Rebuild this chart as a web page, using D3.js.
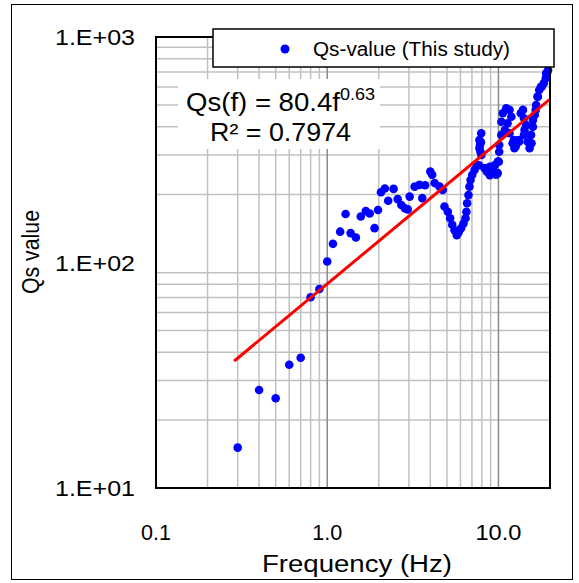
<!DOCTYPE html>
<html>
<head>
<meta charset="utf-8">
<script src="https://cdn.jsdelivr.net/npm/d3@7"></script>
<style>
  body { margin: 0; background: #fff; }
  svg text { font-family: "Liberation Sans", Arial, sans-serif; }
</style>
</head>
<body>
<div id="chart"></div>
<script>
// ---------- data ----------
const freq = [
  0.3, 0.4, 0.5, 0.6, 0.7, 0.8, 0.9, 1.0, 1.08, 1.19,
  1.28, 1.37, 1.47, 1.57, 1.68, 1.77, 1.89, 1.98, 2.06, 2.17,
  2.27, 2.44, 2.58, 2.71, 2.84, 2.95, 3.03, 3.24, 3.46, 3.59,
  3.73, 4.0, 4.1, 4.24, 4.53, 4.73, 4.84, 5.06, 5.22, 5.37,
  5.54, 5.71, 5.85, 6.05, 6.25, 6.42, 6.5, 6.56, 6.68, 6.77,
  6.87, 7.03, 7.25, 7.47, 7.74, 7.9, 7.93, 7.74, 7.8, 7.85,
  7.95, 7.7, 8.3, 8.55, 8.9, 8.9, 9.27, 9.5, 9.7, 9.9,
  9.9, 10.05, 10.1, 10.1, 10.4, 10.4, 10.6, 10.9, 11.1, 11.3,
  11.6, 11.6, 11.9, 12.1, 12.3, 12.4, 12.6, 13.1, 13.2, 13.5,
  13.9, 14.1, 14.2, 14.5, 14.1, 14.8, 15.2, 15.5, 15.6, 15.9,
  15.9, 16.3, 16.5, 16.6, 16.9, 17.0, 17.3, 17.7, 17.9, 18.4,
  18.9, 19.0, 19.3, 19.5
];
const qsValue = [
  15.1, 27.2, 25.0, 35.2, 37.8, 70.1, 76.3, 101, 121, 137,
  164, 135, 129, 160, 169, 165, 142, 171, 205, 213,
  188, 212, 191, 180, 174, 172, 196, 217, 221, 193,
  220, 253, 245, 225, 217, 210, 177, 168, 157, 147,
  139, 132, 136, 142, 149, 157, 168, 183, 199, 217,
  232, 245, 257, 271, 321, 341, 374, 349, 332, 310,
  300, 270, 262, 253, 266, 244, 253, 270, 245, 280,
  249, 280, 310, 332, 368, 421, 459, 387, 483, 414,
  475, 374, 443, 338, 349, 321, 327, 349, 343, 459,
  475, 436, 387, 407, 368, 343, 321, 368, 338, 400,
  428, 451, 475, 499, 544, 543, 582, 602, 602, 623,
  656, 690, 700, 714
];
// power-law fit printed on the chart
const fitCoef = 80.4;
const fitExp = 0.63;
const fitRange = [0.29, 19.6];
const xTickValues = [0.1, 1, 10];
const xTickLabels = ["0.1", "1.0", "10.0"];
const yTickValues = [10, 100, 1000];
const yTickLabels = ["1.E+01", "1.E+02", "1.E+03"];
const seriesName = "Qs-value (This study)";
const eqMain = "Qs(f) = 80.4f";
const eqSup = "0.63";
const eqR2 = "R\u00b2 = 0.7974";

// ---------- layout ----------
const W = 579, H = 583;
const plot = { left: 156, top: 37, right: 550, bottom: 488 };

const svg = d3.select("#chart").append("svg")
  .attr("width", W).attr("height", H);

svg.append("rect")
  .attr("x", 11.5).attr("y", 4.5).attr("width", 561).attr("height", 575)
  .attr("fill", "#fff").attr("stroke", "#000").attr("stroke-width", 1);

const x = d3.scaleLog().domain([0.1, 20]).range([plot.left, plot.right]);
const y = d3.scaleLog().domain([10, 1000]).range([plot.bottom, plot.top]);

// ---------- gridlines ----------
const grid = svg.append("g");
const xMinor = [], yMinor = [];
[0.1, 1, 10].forEach(dec => {
  for (let k = 2; k <= 9; k++) {
    const v = +(dec * k).toFixed(3);
    if (v < 20) xMinor.push(v);
  }
});
[10, 100].forEach(dec => {
  for (let k = 2; k <= 9; k++) yMinor.push(dec * k);
});

grid.selectAll("line.xm").data(xMinor).join("line")
  .attr("x1", d => x(d)).attr("x2", d => x(d))
  .attr("y1", plot.top).attr("y2", plot.bottom)
  .attr("stroke", "#c0c0c0").attr("stroke-width", 1.5);
grid.selectAll("line.ym").data(yMinor).join("line")
  .attr("x1", plot.left).attr("x2", plot.right)
  .attr("y1", d => y(d)).attr("y2", d => y(d))
  .attr("stroke", "#c0c0c0").attr("stroke-width", 1.5);
grid.selectAll("line.xM").data([1, 10]).join("line")
  .attr("x1", d => x(d)).attr("x2", d => x(d))
  .attr("y1", plot.top).attr("y2", plot.bottom)
  .attr("stroke", "#8a8a8a").attr("stroke-width", 1.5);

// ---------- equation box (white, covers grid) ----------
svg.append("rect")
  .attr("x", 178).attr("y", 79).attr("width", 202).attr("height", 70)
  .attr("fill", "#fff");

// ---------- points ----------
const pts = freq.map((f, i) => ({ f, q: qsValue[i] }));
svg.append("g").selectAll("circle").data(pts).join("circle")
  .attr("cx", d => x(d.f)).attr("cy", d => y(d.q))
  .attr("r", 4.3).attr("fill", "#0000ff");

// ---------- fit line ----------
const fitLine = d3.line().x(d => x(d)).y(d => y(fitCoef * Math.pow(d, fitExp)));
svg.append("path")
  .attr("d", fitLine(fitRange))
  .attr("fill", "none").attr("stroke", "#ff0000").attr("stroke-width", 3)
  .attr("stroke-linecap", "round");

// ---------- plot frame ----------
svg.append("rect")
  .attr("x", plot.left).attr("y", plot.top)
  .attr("width", plot.right - plot.left).attr("height", plot.bottom - plot.top)
  .attr("fill", "none").attr("stroke", "#000").attr("stroke-width", 2);

// ---------- axis labels ----------
svg.selectAll("text.xt").data(xTickValues).join("text")
  .attr("x", d => x(d)).attr("y", 540)
  .attr("text-anchor", "middle").attr("font-size", 22)
  .attr("textLength", (d, i) => xTickLabels[i].length > 3 ? 46 : 30)
  .attr("lengthAdjust", "spacingAndGlyphs")
  .text((d, i) => xTickLabels[i]);

svg.selectAll("text.yt").data(yTickValues).join("text")
  .attr("x", 135).attr("y", d => y(d) + 8)
  .attr("text-anchor", "end").attr("font-size", 22)
  .attr("textLength", 80).attr("lengthAdjust", "spacingAndGlyphs")
  .text((d, i) => yTickLabels[i]);

svg.append("text")
  .attr("x", 357).attr("y", 572)
  .attr("text-anchor", "middle").attr("font-size", 23)
  .attr("textLength", 190).attr("lengthAdjust", "spacingAndGlyphs")
  .text("Frequency (Hz)");

svg.append("text")
  .attr("transform", "translate(39,252) rotate(-90)")
  .attr("text-anchor", "middle").attr("font-size", 23)
  .attr("textLength", 84).attr("lengthAdjust", "spacingAndGlyphs")
  .text("Qs value");

// ---------- equation text ----------
const eq1 = svg.append("text")
  .attr("x", 186).attr("y", 111).attr("font-size", 26)
  .attr("textLength", 189).attr("lengthAdjust", "spacingAndGlyphs");
eq1.append("tspan").text(eqMain);
eq1.append("tspan").attr("font-size", 17).attr("dy", -11).text(eqSup);

svg.append("text")
  .attr("x", 210).attr("y", 141).attr("font-size", 26)
  .attr("textLength", 141).attr("lengthAdjust", "spacingAndGlyphs")
  .text(eqR2);

// ---------- legend ----------
svg.append("rect")
  .attr("x", 213).attr("y", 29).attr("width", 341).attr("height", 38)
  .attr("fill", "#fff").attr("stroke", "#000").attr("stroke-width", 1.5);
svg.append("circle")
  .attr("cx", 285).attr("cy", 49).attr("r", 4.5).attr("fill", "#0000ff");
svg.append("text")
  .attr("x", 313).attr("y", 56).attr("font-size", 20)
  .attr("textLength", 197).attr("lengthAdjust", "spacingAndGlyphs")
  .text(seriesName);
</script>
</body>
</html>
